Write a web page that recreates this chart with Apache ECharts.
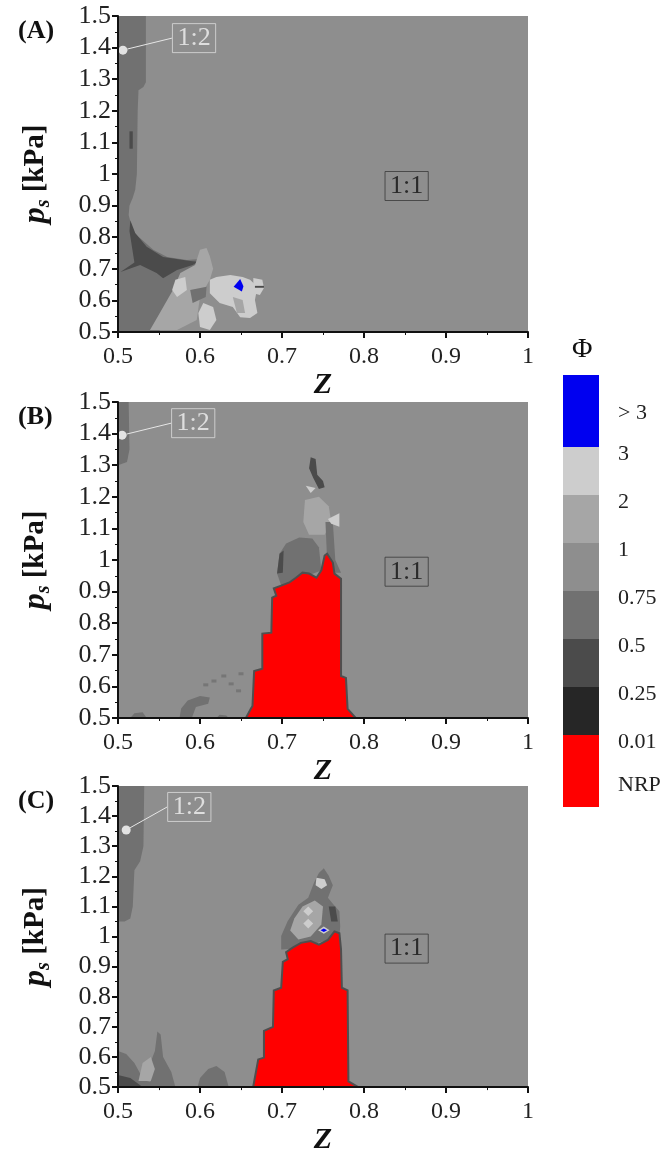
<!DOCTYPE html>
<html>
<head>
<meta charset="utf-8">
<script src="https://cdn.jsdelivr.net/npm/echarts@6/dist/echarts.min.js"></script>
<style>
html, body { margin: 0; background: #fff; }
#chart { width: 664px; height: 1156px; }
</style>
</head>
<body>
<div id="chart"></div>
<script>
// Phi bands: 0 = NRP, 1 = 0.01-0.25, 2 = 0.25-0.5, 3 = 0.5-0.75, 4 = 0.75-1, 5 = 1-2, 6 = 2-3, 7 = >3
var levelColors = ['#ff0000', '#262626', '#4b4b4b', '#717171', '#8e8e8e', '#a6a6a6', '#cdcdcd', '#0000f0'];

// ---- panel (A) regions, [Z, ps] ----
var aBase = [[0.5, 0.5], [1, 0.5], [1, 1.5], [0.5, 1.5]];
var aStrip = [[0.5, 1.5], [0.534, 1.5], [0.534, 1.29], [0.531, 1.275], [0.525, 1.265], [0.524, 1.2], [0.523, 1.0], [0.521, 0.95], [0.518, 0.925], [0.514, 0.9], [0.513, 0.87], [0.516, 0.84], [0.521, 0.81], [0.53, 0.79], [0.543, 0.76], [0.56, 0.737], [0.584, 0.728], [0.596, 0.73], [0.598, 0.7], [0.58, 0.66], [0.56, 0.55], [0.55, 0.5], [0.5, 0.5]];
var aStreak = [[0.514, 1.135], [0.518, 1.135], [0.518, 1.08], [0.514, 1.08]];
var aDark = [[0.515, 0.854], [0.521, 0.813], [0.535, 0.77], [0.555, 0.737], [0.588, 0.725], [0.598, 0.722], [0.591, 0.712], [0.572, 0.696], [0.555, 0.67], [0.547, 0.687], [0.527, 0.712], [0.503, 0.69], [0.52, 0.72], [0.517, 0.77], [0.514, 0.82]];
var aMid = [[0.551, 0.56], [0.567, 0.633], [0.576, 0.687], [0.594, 0.712], [0.6, 0.76], [0.608, 0.766], [0.612, 0.74], [0.616, 0.7], [0.612, 0.665], [0.6, 0.611], [0.596, 0.538], [0.572, 0.506], [0.539, 0.506]];
var aPale1 = [[0.57, 0.665], [0.582, 0.674], [0.584, 0.633], [0.572, 0.611], [0.566, 0.633]];
var aPale2 = [[0.604, 0.592], [0.616, 0.579], [0.62, 0.538], [0.612, 0.506], [0.6, 0.516], [0.598, 0.56]];
var aShade = [[0.588, 0.633], [0.608, 0.643], [0.607, 0.611], [0.591, 0.592]];
var aPale3 = [[0.612, 0.665], [0.62, 0.674], [0.637, 0.68], [0.652, 0.674], [0.661, 0.665], [0.67, 0.643], [0.667, 0.601], [0.67, 0.56], [0.661, 0.544], [0.649, 0.547], [0.64, 0.579], [0.624, 0.592], [0.612, 0.623]];
var aMid2 = [[0.64, 0.611], [0.652, 0.601], [0.655, 0.56], [0.645, 0.56]];
var aPale4 = [[0.665, 0.671], [0.676, 0.665], [0.678, 0.639], [0.673, 0.617], [0.665, 0.623]];
var aDash = [[0.667, 0.646], [0.678, 0.646], [0.678, 0.64], [0.667, 0.64]];
var aBlue = [[0.649, 0.668], [0.653, 0.645], [0.651, 0.628], [0.641, 0.643]];

// ---- panel (B) ----
var bBase = [[0.5, 0.5], [1, 0.5], [1, 1.5], [0.5, 1.5]];
var bStrip = [[0.5, 1.5], [0.513, 1.5], [0.514, 1.35], [0.511, 1.31], [0.5, 1.3]];
var bBlob1 = [[0.575, 0.5], [0.577, 0.53], [0.585, 0.555], [0.6, 0.57], [0.612, 0.565], [0.61, 0.545], [0.595, 0.535], [0.59, 0.5]];
var bBlob2 = [[0.515, 0.5], [0.52, 0.515], [0.53, 0.518], [0.535, 0.5]];
var bBlob3 = [[0.62, 0.5], [0.624, 0.51], [0.632, 0.508], [0.635, 0.5]];
var bDots = [[0.607, 0.605], [0.617, 0.617], [0.629, 0.633], [0.65, 0.64], [0.638, 0.608], [0.647, 0.586]];
var bCap = [[0.694, 0.957], [0.697, 1.02], [0.705, 1.052], [0.721, 1.071], [0.737, 1.068], [0.745, 1.04], [0.748, 0.967], [0.699, 0.919]];
var bCapEdge = [[0.694, 0.957], [0.697, 1.02], [0.702, 1.03], [0.701, 0.96]];
var bMid = [[0.728, 1.19], [0.745, 1.2], [0.757, 1.17], [0.76, 1.12], [0.752, 1.08], [0.733, 1.08], [0.726, 1.12]];
var bCol = [[0.753, 1.12], [0.762, 1.12], [0.765, 1.0], [0.772, 0.96], [0.762, 0.96], [0.755, 1.0]];
var bStreak = [[0.735, 1.325], [0.741, 1.32], [0.743, 1.27], [0.75, 1.25], [0.752, 1.23], [0.745, 1.225], [0.738, 1.26], [0.733, 1.29]];
var bPale1 = [[0.729, 1.235], [0.741, 1.228], [0.735, 1.212]];
var bPale2 = [[0.756, 1.13], [0.77, 1.148], [0.77, 1.105], [0.76, 1.115]];
var bRed = [[0.656, 0.5], [0.662, 0.529], [0.664, 0.538], [0.666, 0.649], [0.676, 0.656], [0.676, 0.767], [0.687, 0.77], [0.688, 0.881], [0.693, 0.887], [0.69, 0.91], [0.699, 0.919], [0.709, 0.929], [0.717, 0.944], [0.725, 0.96], [0.733, 0.957], [0.742, 0.944], [0.748, 0.967], [0.752, 1.014], [0.755, 1.02], [0.762, 0.992], [0.764, 0.957], [0.772, 0.941], [0.772, 0.633], [0.778, 0.627], [0.78, 0.529], [0.79, 0.5]];

// ---- panel (C) ----
var cBase = [[0.5, 0.5], [1, 0.5], [1, 1.5], [0.5, 1.5]];
var cStrip = [[0.5, 1.5], [0.532, 1.5], [0.531, 1.3], [0.527, 1.25], [0.52, 1.22], [0.518, 1.1], [0.515, 1.06], [0.508, 1.05], [0.5, 1.05]];
var cLow1 = [[0.5, 0.5], [0.5, 0.62], [0.51, 0.61], [0.52, 0.58], [0.528, 0.54], [0.535, 0.52], [0.55, 0.51], [0.56, 0.5]];
var cLow2 = [[0.54, 0.5], [0.538, 0.57], [0.545, 0.62], [0.548, 0.685], [0.552, 0.675], [0.555, 0.6], [0.565, 0.55], [0.57, 0.5]];
var cLowMid = [[0.525, 0.52], [0.53, 0.58], [0.54, 0.6], [0.545, 0.56], [0.54, 0.52]];
var cLowDark = [[0.5, 0.5], [0.5, 0.54], [0.515, 0.53], [0.525, 0.51], [0.53, 0.5]];
var cLow3 = [[0.597, 0.5], [0.6, 0.53], [0.61, 0.56], [0.62, 0.57], [0.63, 0.55], [0.635, 0.5]];
var cCap = [[0.699, 0.957], [0.699, 1.002], [0.707, 1.052], [0.72, 1.106], [0.732, 1.129], [0.739, 1.179], [0.745, 1.211], [0.751, 1.227], [0.757, 1.202], [0.762, 1.17], [0.756, 1.129], [0.763, 1.106], [0.77, 1.084], [0.771, 1.033], [0.77, 1.0], [0.72, 0.96]];
var cMid = [[0.71, 1.02], [0.715, 1.06], [0.725, 1.1], [0.74, 1.12], [0.75, 1.1], [0.748, 1.04], [0.735, 1.0], [0.72, 0.99]];
var cCapDark = [[0.757, 1.1], [0.765, 1.1], [0.768, 1.05], [0.76, 1.05]];
var cPale1 = [[0.732, 1.1], [0.738, 1.084], [0.732, 1.068], [0.726, 1.084]];
var cPale2 = [[0.732, 1.059], [0.738, 1.043], [0.732, 1.027], [0.726, 1.043]];
var cPale3 = [[0.742, 1.195], [0.752, 1.19], [0.755, 1.17], [0.748, 1.158], [0.741, 1.17]];
var cRim = [[0.751, 1.033], [0.758, 1.021], [0.751, 1.009], [0.744, 1.021]];
var cBlue = [[0.751, 1.027], [0.755, 1.021], [0.751, 1.015], [0.747, 1.021]];
var cRed = [[0.665, 0.5], [0.665, 0.503], [0.671, 0.592], [0.678, 0.598], [0.678, 0.687], [0.689, 0.7], [0.69, 0.821], [0.699, 0.83], [0.701, 0.916], [0.707, 0.925], [0.705, 0.948], [0.713, 0.963], [0.723, 0.979], [0.735, 0.985], [0.745, 0.973], [0.756, 0.989], [0.764, 1.017], [0.77, 1.011], [0.772, 0.957], [0.773, 0.83], [0.78, 0.821], [0.781, 0.519], [0.793, 0.5]];

// [band, polygon], drawn in this order
var panelA = [[4, aBase], [3, aStrip], [2, aStreak], [2, aDark], [5, aMid], [6, aPale1], [6, aPale2], [3, aShade], [6, aPale3], [5, aMid2], [6, aPale4], [2, aDash], [7, aBlue]];
var panelB = [[4, bBase], [3, bStrip], [3, bBlob1], [3, bBlob2], [3, bBlob3], [5, bMid], [3, bCap], [2, bCapEdge], [3, bCol], [2, bStreak], [6, bPale1], [6, bPale2], [0, bRed]];
var panelC = [[4, cBase], [3, cStrip], [3, cLow1], [3, cLow2], [5, cLowMid], [2, cLowDark], [3, cLow3], [3, cCap], [5, cMid], [2, cCapDark], [6, cPale1], [6, cPale2], [6, cPale3], [6, cRim], [7, cBlue], [0, cRed]];

// annotations
var lockDots = [[0.506, 1.392], [0.505, 1.395], [0.51, 1.354]];
var mainLock = [[0.852, 0.962], [0.852, 0.963], [0.852, 0.96]];
var panelNames = ['(A)', '(B)', '(C)'];

// colour bar
var cbBands = [7, 6, 5, 4, 3, 2, 1, 0];
var cbEdges = [9, 7.5, 6.5, 5.5, 4.5, 3.5, 2.5, 1.5, 0];
var cbLabels = ['NRP', '0.01', '0.25', '0.5', '0.75', '1', '2', '3', '> 3'];
var cbLabelAt = [0.45, 1.35, 2.35, 3.35, 4.35, 5.35, 6.35, 7.35, 8.2];

var serif = '"Liberation Serif", "DejaVu Serif", serif';
var gridTops = [16, 402, 786];

function regionSeries(regions, gi) {
    return {
        type: 'custom',
        xAxisIndex: gi,
        yAxisIndex: gi,
        clip: true,
        silent: true,
        data: regions.map(function (r, i) { return [r[1][0][0], r[1][0][1], i]; }),
        renderItem: function (params, api) {
            var r = regions[params.dataIndex];
            var pts = r[1].map(function (d) { return api.coord(d); });
            var st = { fill: levelColors[r[0]] };
            if (r[0] === 0) { st.stroke = '#4f4f4f'; st.lineWidth = 2; }
            return { type: 'polygon', shape: { points: pts }, style: st };
        }
    };
}

function lockSeries(gi) {
    return [{
        type: 'scatter',
        xAxisIndex: gi,
        yAxisIndex: gi,
        data: [lockDots[gi]],
        symbolSize: 9,
        itemStyle: { color: '#fff' },
        z: 5,
        label: {
            show: true, formatter: '1:2', position: 'right', distance: 5,
            fontFamily: serif, fontSize: 26, color: '#f2f2f2',
            borderColor: '#dcdcdc', borderWidth: 1, padding: [3, 5, 0, 5]
        },
        labelLayout: { dx: gi === 2 ? 32 : 40, dy: gi === 2 ? -23 : -12 },
        labelLine: { show: true, lineStyle: { color: '#e6e6e6', width: 1 } }
    }, {
        type: 'scatter',
        xAxisIndex: gi,
        yAxisIndex: gi,
        data: [mainLock[gi]],
        symbolSize: 0,
        z: 5,
        label: {
            show: true, formatter: '1:1', position: 'inside',
            fontFamily: serif, fontSize: 26, color: '#111',
            borderColor: '#3a3a3a', borderWidth: 1, padding: [3, 5, 0, 5]
        }
    }];
}

var chart = echarts.init(document.getElementById('chart'));

var grids = [], xAxes = [], yAxes = [], titles = [], series = [];
[panelA, panelB, panelC].forEach(function (regions, gi) {
    grids.push({ left: 118, top: gridTops[gi], width: 410, height: 316 });
    xAxes.push({
        gridIndex: gi, type: 'value', min: 0.5, max: 1, interval: 0.1,
        name: 'Z', nameLocation: 'middle', nameGap: 36,
        nameTextStyle: { fontFamily: serif, fontSize: 30, fontWeight: 'bold', fontStyle: 'italic', color: '#111' },
        axisLine: { onZero: false, lineStyle: { color: '#111', width: 2 } },
        axisTick: { length: 6, lineStyle: { color: '#111', width: 2 } },
        minorTick: { show: true, splitNumber: 2, length: 3, lineStyle: { color: '#111' } },
        axisLabel: { fontFamily: serif, fontSize: 24, color: '#222', margin: 13 },
        splitLine: { show: false },
        z: 10
    });
    yAxes.push({
        gridIndex: gi, type: 'value', min: 0.5, max: 1.5, interval: 0.1,
        name: '{p|p}{s|s}{k| [kPa]}', nameLocation: 'middle', nameGap: 64,
        nameTextStyle: {
            color: '#111',
            rich: {
                p: { fontFamily: serif, fontSize: 32, fontWeight: 'bold', fontStyle: 'italic', color: '#111' },
                s: { fontFamily: serif, fontSize: 20, fontWeight: 'bold', fontStyle: 'italic', color: '#111', padding: [16, 0, 0, 0] },
                k: { fontFamily: serif, fontSize: 29, fontWeight: 'bold', color: '#111' }
            }
        },
        axisLine: { onZero: false, lineStyle: { color: '#111', width: 2 } },
        axisTick: { length: 6, lineStyle: { color: '#111', width: 2 } },
        minorTick: { show: true, splitNumber: 2, length: 3, lineStyle: { color: '#111' } },
        axisLabel: { fontFamily: serif, fontSize: 26, color: '#222', margin: 7 },
        splitLine: { show: false },
        z: 10
    });
    titles.push({
        text: panelNames[gi], left: 13, top: gridTops[gi] - 3,
        textStyle: { fontFamily: serif, fontSize: 26, fontWeight: 'bold', color: '#111' }
    });
    series.push(regionSeries(regions, gi));
    if (gi === 1) {
        series.push({
            type: 'scatter', xAxisIndex: 1, yAxisIndex: 1, data: bDots,
            symbol: 'rect', symbolSize: [5, 3], itemStyle: { color: levelColors[3] }, z: 3
        });
    }
    lockSeries(gi).forEach(function (s) { series.push(s); });
});

// colour bar as its own small grid
grids.push({ left: 563, top: 375, width: 36, height: 432 });
xAxes.push({ gridIndex: 3, type: 'value', min: 0, max: 1, show: false });
yAxes.push({
    gridIndex: 3, type: 'value', min: 0, max: 9, position: 'right',
    axisLine: { show: false }, axisTick: { show: false }, splitLine: { show: false },
    axisLabel: {
        customValues: cbLabelAt, margin: 19,
        fontFamily: serif, fontSize: 22, color: '#222',
        formatter: function (v) {
            var best = 0;
            cbLabelAt.forEach(function (p, i) { if (Math.abs(p - v) < Math.abs(cbLabelAt[best] - v)) best = i; });
            return cbLabels[best];
        }
    }
});
titles.push({
    text: 'Φ', left: 567, top: 331,
    textStyle: { fontFamily: serif, fontSize: 28, fontWeight: 'normal', color: '#111' }
});
series.push({
    type: 'custom', xAxisIndex: 3, yAxisIndex: 3, silent: true,
    data: cbBands.map(function (b, i) { return [0, cbEdges[i], i]; }),
    renderItem: function (params, api) {
        var i = params.dataIndex;
        var p0 = api.coord([0, cbEdges[i]]);
        var p1 = api.coord([1, cbEdges[i + 1]]);
        return {
            type: 'rect',
            shape: { x: p0[0], y: p0[1], width: p1[0] - p0[0], height: p1[1] - p0[1] },
            style: { fill: levelColors[cbBands[i]] }
        };
    }
});

var option = {
    backgroundColor: '#fff',
    animation: false,
    title: titles,
    grid: grids,
    xAxis: xAxes,
    yAxis: yAxes,
    series: series
};

chart.setOption(option);
</script>
</body>
</html>
